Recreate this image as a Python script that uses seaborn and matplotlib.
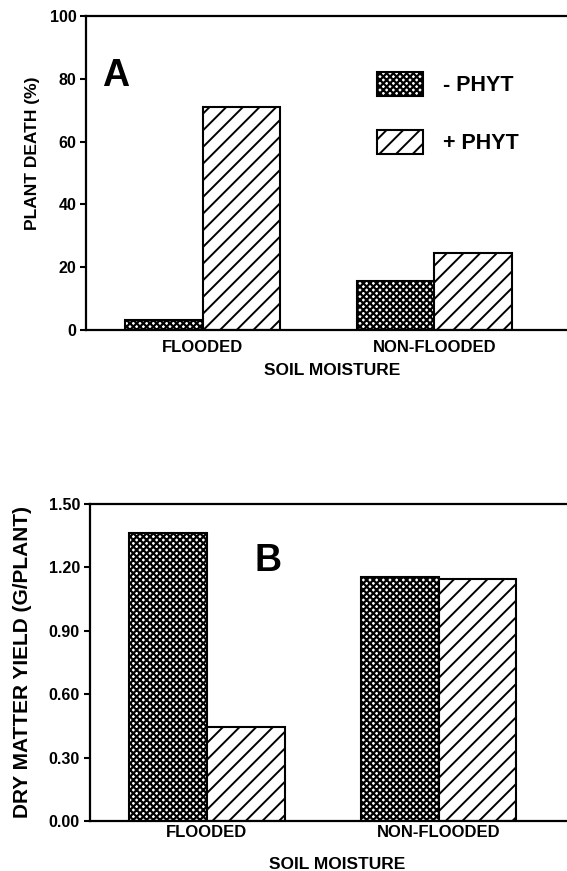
import matplotlib
matplotlib.use("Agg")
import matplotlib.pyplot as plt
import seaborn as sns
import pandas as pd

sns.set_theme(style="white")
plt.rcParams['font.family'] = ['Liberation Sans', 'DejaVu Sans']
plt.rcParams['font.weight'] = 'bold'
plt.rcParams['text.color'] = 'black'
plt.rcParams['axes.labelcolor'] = 'black'
plt.rcParams['xtick.color'] = 'black'
plt.rcParams['ytick.color'] = 'black'
plt.rcParams['hatch.linewidth'] = 1.0

categories = ["FLOODED", "NON-FLOODED"]
treatments = ["- PHYT", "+ PHYT"]
death_minus = [3.2, 15.5]
death_plus = [71.0, 24.5]
yield_minus = [1.363, 1.154]
yield_plus = [0.445, 1.144]

death_ticks = [0, 20, 40, 60, 80, 100]
yield_ticks = [0.0, 0.3, 0.6, 0.9, 1.2, 1.5]

hatches = ["xxxxx", "//"]
hatch_lw = [1.6, 1.4]

df_death = pd.DataFrame({
    "moisture": categories * 2,
    "trt": [treatments[0]] * 2 + [treatments[1]] * 2,
    "value": death_minus + death_plus,
})
df_yield = pd.DataFrame({
    "moisture": categories * 2,
    "trt": [treatments[0]] * 2 + [treatments[1]] * 2,
    "value": yield_minus + yield_plus,
})

W, H = 567, 871
fig = plt.figure(figsize=(W / 100, H / 100), dpi=100)
axA = fig.add_axes([86 / W, 1 - 330 / H, 1 - 86 / W, (330 - 16) / H])
axB = fig.add_axes([89.7 / W, 1 - 821 / H, 1 - 89.7 / W, (821 - 503.6) / H])


def style_patch(p, h, lw):
    p.set_hatch(h)
    p.set_edgecolor("black")
    p.set_facecolor("white")
    if hasattr(p, "set_hatch_linewidth"):
        p.set_hatch_linewidth(lw)
    else:
        p._hatch_linewidth = lw


def draw(ax, df, ticks, fmt, ylabel, ylabel_size, xlim, xpad, legend):
    sns.barplot(data=df, x="moisture", y="value", hue="trt", order=categories,
                hue_order=treatments, ax=ax, width=0.67, gap=0,
                palette=["white", "white"], edgecolor="black", linewidth=1.5,
                errorbar=None, legend=legend)
    for cont, h, lw in zip(ax.containers, hatches, hatch_lw):
        for p in cont:
            style_patch(p, h, lw)
    ax.set_xlim(*xlim)
    ax.set_ylim(ticks[0], ticks[-1])
    ax.set_yticks(ticks)
    ax.set_yticklabels([fmt.format(t) for t in ticks], fontsize=11.5, fontweight="bold")
    ax.set_xticks(range(len(categories)))
    ax.set_xticklabels(categories, fontsize=12, fontweight="bold")
    ax.tick_params(axis="x", length=0, pad=xpad)
    ax.tick_params(axis="y", length=4, width=1.5, direction="out", left=True, pad=3)
    ax.set_xlabel("SOIL MOISTURE", fontsize=12.5, fontweight="bold")
    ax.set_ylabel(ylabel, fontsize=ylabel_size, fontweight="bold")
    for s in ["left", "top", "bottom"]:
        ax.spines[s].set_visible(True)
        ax.spines[s].set_linewidth(1.6)
        ax.spines[s].set_color("black")
    ax.spines["right"].set_visible(False)


draw(axA, df_death, death_ticks, "{:d}", "PLANT DEATH (%)", 12.5, (-0.505, 1.573), 7, True)
draw(axB, df_yield, yield_ticks, "{:.2f}", "DRY MATTER YIELD (G/PLANT)", 15, (-0.506, 1.554), 3, False)

axA.text(116 / W, 1 - 76 / H, "A", transform=fig.transFigure,
         fontsize=27, fontweight="bold", ha="center", va="center")
axB.text(268 / W, 1 - 561 / H, "B", transform=fig.transFigure,
         fontsize=27, fontweight="bold", ha="center", va="center")

axA.xaxis.set_label_coords(0.511, -0.105)
axB.xaxis.set_label_coords(0.518, -0.113)
axA.yaxis.set_label_coords(-0.0956, 0.562)
axB.yaxis.set_label_coords(-0.121, 0.5025)

leg = axA.legend(loc="upper left", bbox_to_anchor=(377 / W, 1 - 72 / H),
                 bbox_transform=fig.transFigure, frameon=False, borderpad=0,
                 borderaxespad=0, handlelength=2.14, handleheight=1.35,
                 labelspacing=1.55, handletextpad=0.93,
                 prop={"weight": "bold", "size": 15.5})
for lh, h, lw in zip(leg.legend_handles, hatches, hatch_lw):
    style_patch(lh, h, lw)
    lh.set_linewidth(1.5)

fig.savefig("out.png", dpi=100)
